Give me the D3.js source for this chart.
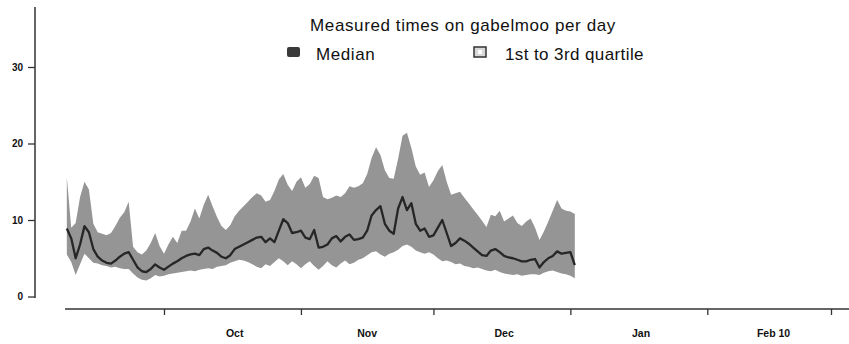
<!DOCTYPE html>
<html>
<head>
<meta charset="utf-8">
<script src="https://cdn.jsdelivr.net/npm/d3@7"></script>
<style>
  html, body { margin: 0; padding: 0; background: #fff; }
  svg { display: block; }
  text { font-family: "Liberation Sans", Arial, Helvetica, sans-serif; fill: #111; }
</style>
</head>
<body>
<svg id="chart" width="849" height="344"></svg>
<script>
// ---- Data ----
const title = "Measured times on gabelmoo per day";
const legendLabels = ["Median", "1st to 3rd quartile"];
const firstDay = "2009-09-09"; // one value per day from this date
const median = [
  8.9, 7.6, 5.0, 6.8, 9.2, 8.4, 6.2, 5.2, 4.7, 4.4,
  4.3, 4.7, 5.2, 5.6, 5.8, 4.8, 3.8, 3.3, 3.2, 3.6,
  4.2, 3.8, 3.5, 3.9, 4.3, 4.6, 5.0, 5.3, 5.5, 5.6,
  5.4, 6.2, 6.4, 6.0, 5.7, 5.2, 5.0, 5.4, 6.2, 6.5,
  6.8, 7.1, 7.4, 7.7, 7.8, 7.1, 7.6, 7.1, 8.6, 10.1,
  9.6, 8.3, 8.4, 8.6, 7.7, 7.5, 8.7, 6.4, 6.5, 6.8,
  7.6, 7.9, 7.2, 7.8, 8.1, 7.4, 7.5, 7.7, 8.6, 10.6,
  11.3, 11.8, 9.5, 8.6, 8.2, 11.5, 13.0, 11.3, 12.2, 9.5,
  8.6, 8.9, 7.8, 8.0, 9.0, 10.0, 8.3, 6.6, 7.0, 7.6,
  7.3, 6.9, 6.4, 5.9, 5.4, 5.3, 6.0, 6.2, 5.8, 5.3,
  5.1, 5.0, 4.8, 4.6, 4.6, 4.8, 4.9, 3.8, 4.5, 5.0,
  5.3, 5.9, 5.6, 5.7, 5.8, 4.1
];
const quartile3 = [
  15.6, 9.0, 9.6, 13.0, 15.0, 14.0, 9.5, 8.4, 8.2, 8.0,
  8.3, 9.2, 10.3, 11.0, 12.4, 6.5, 5.8, 5.5, 6.0, 7.0,
  8.3, 6.6, 5.6, 6.8, 7.8, 7.0, 8.6, 8.6, 9.8, 11.5,
  10.2, 12.0, 13.3, 11.8, 10.4, 9.2, 8.7, 9.3, 10.5, 11.2,
  11.8, 12.4, 13.0, 13.5, 13.2, 12.4, 12.6, 13.8, 15.3, 16.0,
  14.6, 13.8, 15.0, 15.6, 14.2, 14.7, 15.8, 15.5, 13.0, 12.7,
  12.9, 13.2, 13.0, 13.5, 14.4, 14.2, 14.4, 14.8, 16.0, 18.1,
  19.5, 18.5, 16.5, 15.5, 15.4, 18.0, 21.0, 21.4, 19.4, 17.0,
  15.9, 16.2, 14.3, 15.2, 16.4, 17.2, 15.0, 13.3, 13.5, 13.7,
  12.9, 12.2, 11.4, 10.7, 9.9, 9.1, 10.7, 10.5, 11.2, 9.8,
  10.2, 10.6, 9.6, 9.2, 9.8, 10.2, 9.0, 7.4, 8.5, 9.8,
  11.2, 12.6, 11.5, 11.2, 11.1, 10.8
];
const quartile1 = [
  5.5, 4.5, 2.8, 4.2, 5.6, 5.0, 4.4, 4.3, 4.1, 4.0,
  3.8, 3.9, 3.7, 3.6, 3.6, 3.0, 2.5, 2.2, 2.1, 2.4,
  2.8, 2.6, 2.7, 2.9, 3.0, 3.1, 3.2, 3.3, 3.4, 3.3,
  3.5, 3.6, 3.7, 3.6, 3.9, 4.0, 4.1, 4.4, 4.6, 4.8,
  4.7, 4.5, 4.2, 3.9, 3.7, 4.2, 4.0, 4.5, 5.0, 4.6,
  4.1, 4.6, 4.2, 3.7, 4.2, 4.6, 4.0, 3.5, 4.0, 4.6,
  4.1, 3.8, 4.3, 4.7, 4.2, 4.4, 4.8, 5.0, 5.4, 5.8,
  5.9, 5.5, 5.2, 5.6, 5.8, 6.1, 6.6, 6.8, 6.5, 6.0,
  5.8, 5.6, 5.8, 5.5, 5.0, 4.6, 4.7, 4.5, 4.2, 4.3,
  4.0, 3.9, 3.7, 3.8, 3.6, 3.4, 3.3, 3.5, 3.2, 3.0,
  2.9, 2.8, 2.9, 2.7, 2.8, 2.9, 2.9, 2.8, 3.1, 3.3,
  3.4, 3.2, 3.0, 2.9, 2.7, 2.4
];
const xTickDates = ["2009-10-01", "2009-11-01", "2009-12-01", "2010-01-01", "2010-02-01", "2010-03-01"];
const xLabelDates = ["2009-10-17", "2009-11-16", "2009-12-17", "2010-01-17", "2010-02-16"];
const xLabels = ["Oct", "Nov", "Dec", "Jan", "Feb 10"];
const yTicks = [0, 10, 20, 30];

// ---- Build ----
const parse = d3.utcParse("%Y-%m-%d");
const start = parse(firstDay);
const rows = median.map((m, i) => ({
  date: d3.utcDay.offset(start, i),
  med: m, q1: quartile1[i], q3: quartile3[i]
}));

const svg = d3.select("#chart");
const x = d3.scaleUtc()
  .domain([parse("2009-10-01"), parse("2010-03-01")])
  .range([164, 831]);
const y = d3.scaleLinear().domain([0, 30]).range([296.5, 67]);

// band
svg.append("path")
  .datum(rows)
  .attr("fill", "#959595")
  .attr("d", d3.area().x(d => x(d.date)).y0(d => y(d.q1)).y1(d => y(d.q3)));

// median line
svg.append("path")
  .datum(rows)
  .attr("fill", "none")
  .attr("stroke", "#262626")
  .attr("stroke-width", 2.3)
  .attr("stroke-linejoin", "round")
  .attr("d", d3.line().x(d => x(d.date)).y(d => y(d.med)));

// y axis
const yAxis = svg.append("g").attr("transform", "translate(35,0)")
  .call(d3.axisLeft(y).tickValues(yTicks).tickSize(7).tickPadding(5).tickSizeOuter(0));
yAxis.select(".domain").attr("d", "M0,7V298").attr("stroke", "#333").attr("stroke-width", 1.5);
yAxis.selectAll(".tick line").attr("stroke", "#333").attr("stroke-width", 1.3);
yAxis.selectAll(".tick text")
  .style("font-size", "10px").style("font-weight", "bold").attr("fill", "#111");

// x axis
const xAxis = svg.append("g").attr("transform", "translate(0,309)")
  .call(d3.axisBottom(x).tickValues(xTickDates.map(parse)).tickSize(6).tickFormat("").tickSizeOuter(0));
xAxis.select(".domain").attr("d", "M65,0H849").attr("stroke", "#333").attr("stroke-width", 1.5);
xAxis.selectAll(".tick line").attr("stroke", "#333").attr("stroke-width", 1.3);

svg.append("g").selectAll("text")
  .data(xLabels)
  .join("text")
  .attr("x", (d, i) => x(parse(xLabelDates[i])))
  .attr("y", 337)
  .attr("text-anchor", "middle")
  .style("font-size", "10.5px")
  .style("font-weight", "bold")
  .text(d => d);

// title
svg.append("text")
  .attr("x", 463).attr("y", 31)
  .attr("text-anchor", "middle")
  .style("font-size", "17px")
  .style("letter-spacing", "0.6px")
  .text(title);

// legend
const lg = svg.append("g");
lg.append("rect").attr("x", 287).attr("y", 47).attr("width", 13).attr("height", 10)
  .attr("rx", 2).attr("fill", "#3a3a3a");
lg.append("text").attr("x", 316).attr("y", 60)
  .style("font-size", "17px").style("letter-spacing", "0.6px").text(legendLabels[0]);
lg.append("rect").attr("x", 474).attr("y", 47).attr("width", 12).attr("height", 10)
  .attr("fill", "#d8d8d8").attr("stroke", "#333").attr("stroke-width", 1.5);
lg.append("rect").attr("x", 478).attr("y", 50).attr("width", 4).attr("height", 4)
  .attr("fill", "#fff");
lg.append("text").attr("x", 505).attr("y", 60)
  .style("font-size", "17px").style("letter-spacing", "0.4px").text(legendLabels[1]);
</script>
</body>
</html>
